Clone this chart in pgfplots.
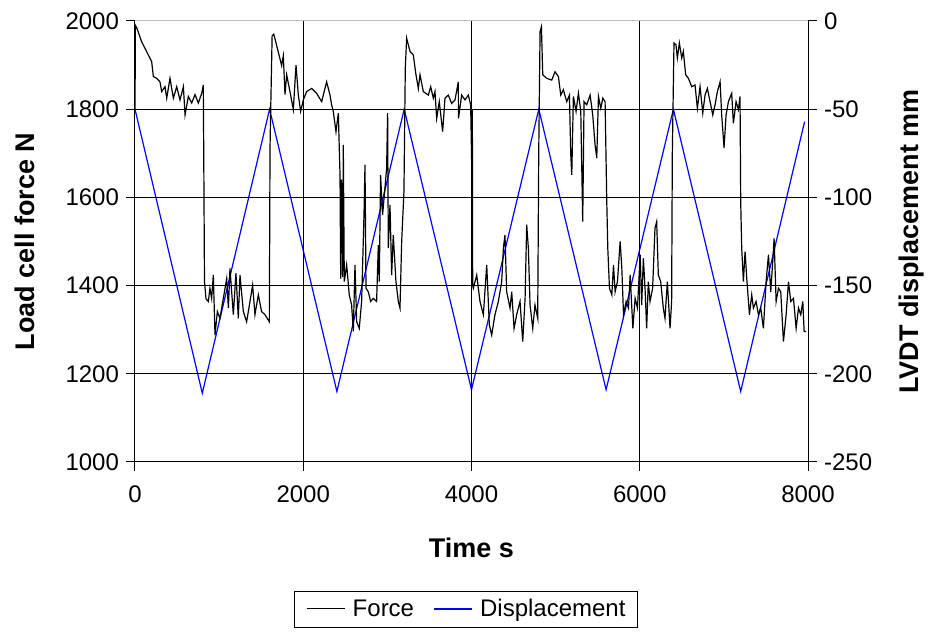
\documentclass[border=0pt]{standalone}
\usepackage{fontspec}
\setmainfont{Liberation Sans}
\usepackage{pgfplots}
\pgfplotsset{compat=1.18}
\begin{document}
\begin{tikzpicture}
\pgfplotsset{
  commonaxis/.style={
    at={(0,0)}, anchor=south west,
    scale only axis, width=336.5pt, height=220.5pt,
    xmin=0, xmax=8000,
    tick align=center, major tick length=9pt,
    axis line style={black, line width=0.5pt},
    tick style={black, line width=0.5pt},
    font=\fontsize{12}{14}\selectfont,
    /pgf/number format/assume math mode=true,
    /pgf/number format/set thousands separator={},
    label style={font=\fontsize{13.5}{16}\selectfont\bfseries},
  }
}
\begin{axis}[commonaxis,
  ymin=-250, ymax=0,
  axis x line=none, axis y line*=right,
  ytick={-250,-200,...,0},
  ylabel={LVDT displacement mm},
  ylabel style={at={(axis description cs:1.1545,0.5)}, anchor=center},
]
\addplot[blue, line width=0.6pt] coordinates {
(0,-50) (800,-211) (1600,-50) (2400,-210) (3200,-50) (4000,-209)
(4800,-50) (5600,-209) (6400,-50) (7200,-210) (7960,-57)
};
\end{axis}
\begin{axis}[commonaxis,
  ymin=1000, ymax=2000,
  axis x line*=bottom, axis y line*=left,
  xtick={0,2000,...,8000},
  ytick={1000,1200,...,1800},
  extra y ticks={2000}, extra y tick style={grid=none},
  xticklabel style={yshift=-4pt},
  grid=major, grid style={black, line width=0.5pt},
  xlabel={Time s}, ylabel={Load cell force N},
  xlabel style={at={(axis description cs:0.5,-0.195)}, anchor=center},
  ylabel style={at={(axis description cs:-0.1634,0.5)}, anchor=center},
  legend style={at={(0.492,-0.2925)}, anchor=north, legend columns=-1,
    font=\fontsize{12}{14}\selectfont,
    inner xsep=4pt, inner ysep=2pt,
    /tikz/every odd column/.append style={column sep=0pt},
    /tikz/every even column/.append style={column sep=6pt}},
  legend image code/.code={},
]
\draw[black!25, line width=0.5pt] (rel axis cs:0,1) -- (rel axis cs:1,1);
\addplot[black, line width=0.6pt] coordinates {
(0,1800) (5,1990) (20,1985) (79,1953) (119,1938) (158,1923) (198,1908) (218,1874)
(258,1870) (297,1862) (317,1840) (357,1851) (377,1825) (416,1870) (456,1825)
(496,1851) (535,1821) (575,1851) (595,1787) (634,1829) (674,1814) (713,1833)
(753,1814) (793,1836) (812,1855) (818,1670) (826,1409) (844,1370) (872,1364)
(891,1394) (911,1371) (931,1424) (951,1288) (979,1341) (1010,1326) (1050,1371)
(1090,1416) (1110,1349) (1129,1439) (1169,1334) (1200,1428) (1228,1326)
(1248,1424) (1288,1341) (1327,1318) (1367,1364) (1398,1401) (1426,1334)
(1466,1379) (1505,1341) (1545,1334) (1597,1318) (1605,1712) (1612,1787)
(1630,1966) (1650,1970) (1704,1929) (1743,1899) (1763,1921) (1783,1833)
(1803,1878) (1842,1840) (1882,1799) (1914,1900) (1941,1833) (1969,1795)
(2001,1821) (2040,1840) (2100,1847) (2159,1836) (2219,1817) (2278,1862)
(2318,1832) (2337,1810) (2357,1795) (2389,1749) (2417,1791) (2437,1651)
(2445,1416) (2455,1640) (2468,1420) (2476,1719) (2488,1409) (2516,1447)
(2547,1379) (2575,1356) (2595,1296) (2615,1447) (2635,1318) (2666,1303)
(2694,1364) (2722,1560) (2734,1674) (2746,1394) (2773,1386) (2801,1364)
(2833,1371) (2872,1364) (2892,1492) (2904,1409) (2919,1651) (2943,1560)
(2971,1621) (2991,1666) (3003,1791) (3011,1485) (3031,1583) (3051,1424)
(3070,1515) (3102,1409) (3130,1364) (3150,1349) (3170,1500) (3197,1613)
(3213,1893) (3229,1961) (3269,1931) (3308,1923) (3340,1878) (3368,1847)
(3388,1878) (3427,1840) (3487,1832) (3515,1851) (3546,1825) (3566,1840)
(3586,1779) (3617,1817) (3657,1749) (3685,1825) (3724,1832) (3764,1813)
(3804,1821) (3843,1862) (3845,1779) (3883,1832) (3923,1821) (3962,1832)
(3990,1810) (4006,1633) (4010,1800) (4014,1400) (4022,1394) (4062,1424)
(4101,1364) (4141,1334) (4181,1447) (4212,1311) (4240,1288) (4279,1334)
(4319,1364) (4359,1409) (4379,1485) (4398,1515) (4418,1386) (4458,1349)
(4478,1386) (4506,1303) (4537,1334) (4577,1364) (4609,1273) (4637,1371)
(4656,1538) (4676,1485) (4696,1356) (4728,1303) (4755,1356) (4787,1326)
(4799,1697) (4815,1976) (4831,1987) (4847,1878) (4894,1870) (4954,1866)
(4993,1885) (5033,1874) (5061,1832) (5092,1844) (5132,1817) (5164,1832)
(5180,1697) (5192,1651) (5211,1829) (5243,1795) (5271,1836) (5299,1795)
(5322,1545) (5338,1817) (5370,1810) (5410,1832) (5441,1787) (5469,1719)
(5489,1689) (5509,1829) (5537,1802) (5561,1825) (5588,1817) (5608,1590)
(5620,1485) (5640,1394) (5668,1379) (5688,1447) (5707,1386) (5735,1409)
(5767,1500) (5787,1439) (5807,1334) (5838,1364) (5866,1349) (5886,1424)
(5918,1303) (5945,1371) (5973,1349) (6005,1470) (6023,1356) (6043,1462)
(6063,1394) (6082,1303) (6102,1409) (6122,1364) (6153,1394) (6181,1530)
(6201,1545) (6221,1424) (6249,1409) (6280,1349) (6300,1326) (6328,1409)
(6360,1303) (6379,1364) (6387,1697) (6407,1950) (6431,1946) (6447,1916)
(6471,1950) (6499,1916) (6518,1931) (6546,1878) (6578,1870) (6618,1851)
(6657,1855) (6685,1802) (6717,1851) (6749,1791) (6776,1832) (6804,1847)
(6836,1817) (6868,1787) (6895,1810) (6923,1840) (6955,1862) (6974,1787)
(7002,1712) (7026,1787) (7054,1817) (7093,1836) (7113,1768) (7145,1817)
(7173,1799) (7192,1829) (7200,1590) (7212,1485) (7232,1409) (7252,1477)
(7272,1416) (7304,1334) (7331,1379) (7351,1349) (7383,1364) (7411,1334)
(7438,1349) (7470,1303) (7502,1409) (7530,1470) (7557,1386) (7581,1455)
(7597,1507) (7621,1364) (7649,1394) (7676,1386) (7708,1273) (7740,1334)
(7768,1409) (7795,1364) (7827,1371) (7859,1303) (7887,1349) (7914,1334)
(7938,1364) (7954,1296) (7978,1296)
};
\addlegendentry{\textcolor{black}{\rule[0.3em]{19pt}{0.6pt}}\hspace{4pt}Force}
\addlegendimage{empty legend}
\addlegendentry{\textcolor{blue}{\rule[0.3em]{19pt}{0.6pt}}\hspace{4pt}Displacement}
\end{axis}
\pgfresetboundingbox
\path[use as bounding box] (-67.5pt,-86.5pt) rectangle (398pt,231pt);
\end{tikzpicture}
\end{document}
